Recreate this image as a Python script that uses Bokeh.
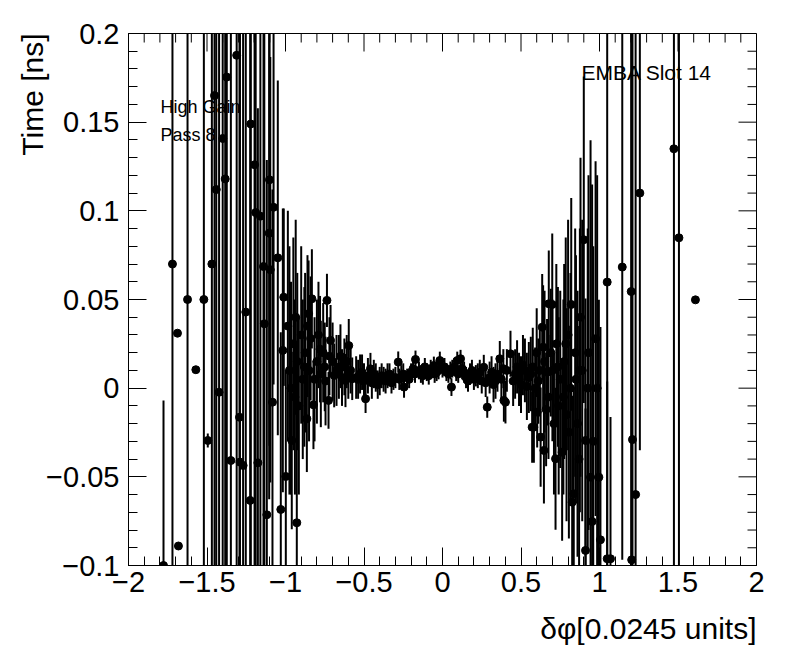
from bokeh.plotting import figure
from bokeh.models import Range1d, FixedTicker, Label, ColumnDataSource, Title
from bokeh.embed import file_html
from bokeh.resources import INLINE
import numpy as np

# ---------------- data ----------------
# left wing
x_left = [-1.777, -1.720, -1.688, -1.682, -1.624, -1.571, -1.520, -1.495, -1.469, -1.452,
          -1.441, -1.423, -1.400, -1.384, -1.374, -1.348, -1.311, -1.293, -1.290, -1.270,
          -1.253, -1.225, -1.221, -1.197, -1.190, -1.176, -1.160, -1.140, -1.135, -1.119,
          -1.104, -1.102, -1.097, -1.083, -1.076, -1.049, -1.030, -1.017, -1.011, -0.998,
          -0.975, -0.960, -0.950, -0.940, -0.928, -0.925, -0.900, -0.890, -0.875, -0.864,
          -0.853, -0.850, -0.840, -0.832, -0.822, -0.800, -0.790, -0.775, -0.760, -0.750,
          -0.736, -0.726, -0.713, -0.700, -0.690, -0.675, -0.650, -0.640, -0.625, -0.618,
          -0.600, -0.597, -0.575,
          -0.985, -0.965, -0.935, -0.915, -0.880, -0.860, -0.815, -0.780, -0.745, -0.720,
          -0.660, -0.610, -0.585]
y_left = [-0.100, 0.070, 0.031, -0.089, 0.050, 0.0104, 0.050, -0.0295, 0.070, 0.165,
          0.112, -0.0023, 0.1408, 0.118, 0.1754, -0.0408, 0.1877, -0.0164, -0.0417, -0.0436,
          0.0429, -0.0633, 0.149, 0.126, 0.099, -0.0421, 0.097, 0.0686, 0.0363, -0.0714,
          0.0874, 0.1175, 0.0668, -0.0079, 0.102, 0.0735, -0.0684, 0.0213, 0.0513, -0.0498,
          0.010, -0.0295, 0.025, -0.005, -0.0759, 0.015, 0.030, 0.005, 0.020, -0.0173,
          0.042, 0.010, 0.028, 0.0504, -0.0094, 0.015, 0.030, 0.008, 0.020, 0.012,
          0.0495, -0.0069, 0.0269, 0.015, 0.0072, 0.010, 0.018, 0.006, 0.012, 0.0043,
          0.008, 0.024, 0.0053,
          0.035, 0.000, 0.040, -0.010, 0.012, 0.035, 0.005, 0.022, 0.004, 0.018,
          0.012, 0.015, 0.010]
e_left = [0.093, 0.5, 0.0, 0.0, 0.5, 0.0, 0.5, 0.004, 0.5, 0.5,
          0.5, 0.5, 0.5, 0.5, 0.5, 0.5, 0.5, 0.5, 0.3, 0.3,
          0.3, 0.3, 0.3, 0.3, 0.2, 0.2, 0.2, 0.2, 0.2, 0.2,
          0.15, 0.15, 0.12, 0.12, 0.1, 0.1, 0.1, 0.08, 0.05, 0.06,
          0.07, 0.05, 0.06, 0.055, 0.1, 0.05, 0.05, 0.045, 0.045, 0.03,
          0.03, 0.04, 0.035, 0.028, 0.025, 0.035, 0.03, 0.03, 0.028, 0.025,
          0.015, 0.016, 0.02, 0.022, 0.018, 0.02, 0.018, 0.016, 0.016, 0.015,
          0.014, 0.015, 0.012,
          0.065, 0.06, 0.055, 0.05, 0.045, 0.04, 0.035, 0.03, 0.025, 0.022,
          0.018, 0.015, 0.013]

# central band
x_mid = [-0.550, -0.525, -0.500, -0.490, -0.475, -0.459, -0.450, -0.425, -0.400, -0.375,
         -0.350, -0.325, -0.300, -0.282, -0.275, -0.250, -0.245, -0.225, -0.200, -0.175,
         -0.172, -0.150, -0.125, -0.100, -0.075, -0.055, -0.050, -0.025, -0.017, 0.000,
         0.025, 0.050, 0.057, 0.075, 0.094, 0.100, 0.115, 0.125, 0.150, 0.175,
         0.200, 0.225, 0.250, 0.263, 0.275, 0.285, 0.300, 0.325, 0.350, 0.365,
         0.375, 0.391, 0.401, 0.410, 0.433, 0.450, 0.475, 0.500, 0.525, 0.550,
         -0.5375, -0.5125, -0.4375, -0.4125, -0.3875, -0.3625, -0.3375, -0.3125, -0.2625, -0.2125,
         -0.1875, -0.1375, -0.1125, -0.0875, -0.0375, 0.0125, 0.0375, 0.0625, 0.0875, 0.1375,
         0.1625, 0.1875, 0.2125, 0.2375, 0.3125, 0.3375, 0.3875, 0.4625, 0.4875, 0.5125,
         0.5375]
y_mid = [0.006, 0.008, 0.004, -0.006, 0.007, 0.0109, 0.003, 0.006, 0.004, 0.005,
         0.007, 0.003, 0.006, 0.0147, 0.005, 0.008, 0.0006, 0.006, 0.009, 0.008,
         0.0162, 0.010, 0.007, 0.009, 0.011, 0.0128, 0.008, 0.010, 0.0156, 0.011,
         0.009, 0.010, 0.0006, 0.012, 0.0156, 0.008, 0.0166, 0.011, 0.006, 0.008,
         0.005, 0.007, 0.004, 0.0118, 0.003, -0.0107, 0.006, 0.002, 0.008, 0.0166,
         0.005, -0.0069, -0.0079, 0.010, 0.0194, 0.004, 0.012, 0.002, 0.010, 0.006,
         0.005, 0.009, 0.008, 0.002, 0.007, 0.004, 0.008, 0.005, 0.007, 0.005,
         0.011, 0.008, 0.012, 0.007, 0.009, 0.012, 0.008, 0.011, 0.009, 0.009,
         0.004, 0.010, 0.007, 0.009, 0.009, 0.004, 0.011, 0.008, 0.005, 0.013,
         0.001]
e_mid = [0.012, 0.011, 0.010, 0.008, 0.010, 0.009, 0.009, 0.008, 0.008, 0.007,
         0.007, 0.006, 0.006, 0.006, 0.006, 0.006, 0.006, 0.005, 0.005, 0.005,
         0.005, 0.005, 0.005, 0.005, 0.005, 0.005, 0.005, 0.005, 0.005, 0.005,
         0.005, 0.005, 0.005, 0.005, 0.005, 0.005, 0.005, 0.006, 0.006, 0.006,
         0.006, 0.007, 0.007, 0.007, 0.008, 0.006, 0.009, 0.010, 0.010, 0.010,
         0.011, 0.012, 0.012, 0.012, 0.013, 0.014, 0.015, 0.016, 0.018, 0.020,
         0.011, 0.010, 0.008, 0.008, 0.007, 0.007, 0.006, 0.006, 0.006, 0.005,
         0.005, 0.005, 0.005, 0.005, 0.005, 0.005, 0.005, 0.005, 0.005, 0.006,
         0.006, 0.006, 0.006, 0.007, 0.009, 0.010, 0.011, 0.014, 0.015, 0.017,
         0.019]

# right wing
x_right = [0.571, 0.575, 0.582, 0.600, 0.603, 0.610, 0.625, 0.635, 0.641, 0.646,
           0.650, 0.666, 0.675, 0.677, 0.699, 0.700, 0.720, 0.725, 0.740, 0.750,
           0.762, 0.775, 0.790, 0.800, 0.805, 0.820, 0.826, 0.836, 0.850, 0.860,
           0.875, 0.879, 0.900, 0.911, 0.911, 0.925, 0.930, 0.943, 0.953, 0.960,
           0.975, 0.985, 0.996, 1.006, 1.049, 1.049, 1.070, 1.145, 1.202, 1.205,
           1.210, 1.230, 1.257, 1.474, 1.506, 1.611,
           0.5625, 0.590, 0.620, 0.660, 0.690, 0.710, 0.735, 0.770, 0.785, 0.815,
           0.845, 0.870, 0.890]
y_right = [-0.022, 0.012, -0.022, 0.020, -0.0135, 0.004, -0.0276, 0.0344, 0.0231, -0.0351,
           0.015, 0.009, -0.005, 0.0476, 0.0472, 0.010, -0.0398, 0.025, -0.010, 0.005,
           -0.0361, 0.015, -0.015, 0.030, -0.0248, 0.0472, -0.0643, -0.0596, 0.005, -0.020,
           0.010, 0.040, 0.0837, -0.0295, -0.0915, 0.000, 0.020, -0.0502, -0.0752, -0.030,
           0.0279, 0.000, -0.0502, -0.0855, 0.0598, -0.0962, -0.0962, 0.0683, 0.0545, -0.0968,
           -0.029, -0.060, 0.110, 0.135, 0.0848, 0.0498,
           0.008, 0.000, 0.010, -0.012, 0.020, -0.020, 0.012, -0.005, 0.025, 0.000,
           0.020, -0.040, 0.010]
e_right = [0.02, 0.022, 0.02, 0.025, 0.02, 0.024, 0.028, 0.03, 0.035, 0.03,
           0.04, 0.03, 0.035, 0.03, 0.04, 0.04, 0.04, 0.045, 0.05, 0.05,
           0.05, 0.055, 0.06, 0.065, 0.06, 0.06, 0.06, 0.06, 0.07, 0.075,
           0.08, 0.09, 0.092, 0.08, 0.08, 0.09, 0.1, 0.19, 0.19, 0.11,
           0.1, 0.12, 0.1, 0.12, 0.5, 0.1, 0.08, 0.165, 0.5, 0.5,
           0.5, 0.5, 0.145, 0.5, 0.5, 0.0,
           0.021, 0.023, 0.026, 0.032, 0.036, 0.04, 0.045, 0.055, 0.06, 0.065,
           0.07, 0.075, 0.085]

x_ticks = [-2, -1.5, -1, -0.5, 0, 0.5, 1, 1.5, 2]
x_tick_labels = ["\u22122", "\u22121.5", "\u22121", "\u22120.5", "0", "0.5", "1", "1.5", "2"]
y_ticks = [-0.1, -0.05, 0, 0.05, 0.1, 0.15, 0.2]
y_tick_labels = ["\u22120.1", "\u22120.05", "0", "0.05", "0.1", "0.15", "0.2"]

x_title = "\u03b4\u03c6[0.0245 units]"
y_title = "Time [ns]"
notes_left = ["High Gain", "Pass 8"]
note_right = "EMBA Slot 14"

# ---------------- build ----------------
xs = x_left + x_mid + x_right
ys = y_left + y_mid + y_right
es = e_left + e_mid + e_right
src = ColumnDataSource(dict(
    x=xs, y=ys,
    lo=[a - b for a, b in zip(ys, es)],
    hi=[a + b for a, b in zip(ys, es)],
))

FONT = "Liberation Sans"
X0, X1, Y0, Y1 = -2.0, 2.0, -0.1, 0.2
FW, FH = 628, 532          # frame size in px

p = figure(width=796, height=672,
           x_range=Range1d(X0, X1), y_range=Range1d(Y0, Y1),
           output_backend="svg", toolbar_location=None,
           min_border_left=128, min_border_right=40,
           min_border_top=33, min_border_bottom=107)
p.grid.visible = False
p.outline_line_color = "black"
p.outline_line_width = 1
p.background_fill_color = "white"
p.border_fill_color = "white"

x_minor = [round(v, 2) for v in np.arange(X0, X1 + 1e-4, 0.1)]
y_minor = [round(v, 3) for v in np.arange(Y0, Y1 + 1e-4, 0.01)]

MAJ, MIN = 18, 9


def style(ax, ticks, minor, labels):
    ax.ticker = FixedTicker(ticks=ticks, minor_ticks=minor)
    ax.major_tick_in = MAJ
    ax.major_tick_out = 0
    ax.minor_tick_in = MIN
    ax.minor_tick_out = 0
    ax.axis_line_color = "black"
    ax.major_tick_line_color = "black"
    ax.minor_tick_line_color = "black"
    ax.major_label_overrides = {t: l for t, l in zip(ticks, labels)}
    ax.major_label_text_font = FONT
    ax.major_label_text_font_size = "29px"
    ax.major_label_text_color = "black"


style(p.xaxis[0], x_ticks, x_minor, x_tick_labels)
p.xaxis[0].major_label_standoff = 6
style(p.yaxis[0], y_ticks, y_minor, y_tick_labels)
p.yaxis[0].major_label_standoff = 9

# mirrored ticks on top and right edges (ROOT style)
dy = (Y1 - Y0) / FH
dx = (X1 - X0) / FW
tx = [t for t in x_minor]
tx_len = [MAJ * dy if any(abs(t - m) < 1e-6 for m in x_ticks) else MIN * dy for t in tx]
p.segment(x0=tx, y0=[Y1] * len(tx), x1=tx, y1=[Y1 - l for l in tx_len],
          line_color="black", line_width=1)
ty = [t for t in y_minor]
ty_len = [MAJ * dx if any(abs(t - m) < 1e-6 for m in y_ticks) else MIN * dx for t in ty]
p.segment(x0=[X1] * len(ty), y0=ty, x1=[X1 - l for l in ty_len], y1=ty,
          line_color="black", line_width=1)

p.segment(x0="x", y0="lo", x1="x", y1="hi", source=src, line_color="black", line_width=2)
p.scatter(x="x", y="y", source=src, marker="circle", size=8, fill_color="black", line_color="black")

# axis titles at the axis ends (ROOT style)
p.add_layout(Title(text=x_title, align="right", text_font=FONT, text_font_size="30px",
                   text_font_style="normal", text_color="black", standoff=30), "below")
p.add_layout(Title(text=y_title, align="right", text_font=FONT, text_font_size="30px",
                   text_font_style="normal", text_color="black", standoff=-10), "left")

p.add_layout(Label(x=-1.796, y=0.1585, text=notes_left[0], text_font=FONT, text_font_size="18px",
                   text_color="black", text_baseline="alphabetic"))
p.add_layout(Label(x=-1.796, y=0.1427, text=notes_left[1], text_font=FONT, text_font_size="18px",
                   text_color="black", text_baseline="alphabetic"))
p.add_layout(Label(x=0.885, y=0.1781, text=note_right, text_font=FONT, text_font_size="21px",
                   text_color="black", text_baseline="alphabetic"))

open("out.html", "w").write(file_html(p, INLINE))
